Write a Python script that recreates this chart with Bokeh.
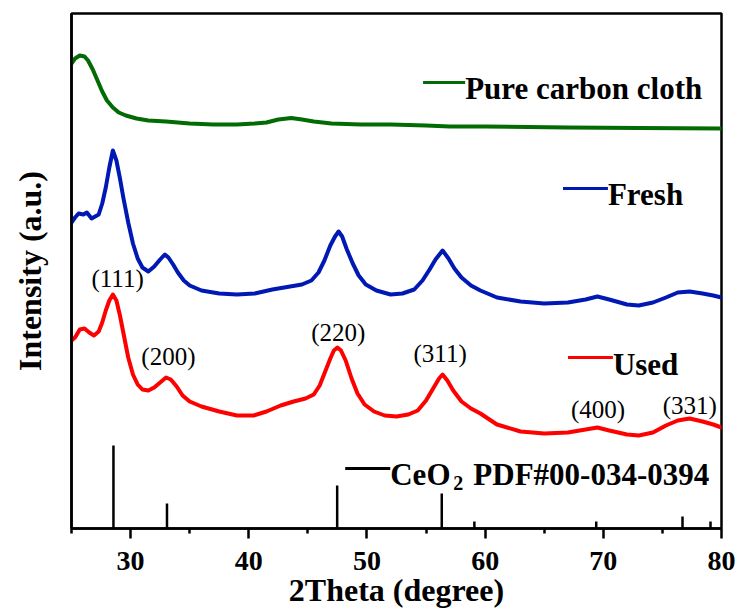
from bokeh.plotting import figure
from bokeh.models import Range1d, FixedTicker
from bokeh.core.properties import value
from bokeh.embed import file_html
from bokeh.resources import INLINE

# ---- data (2theta in degrees, intensity in arbitrary units) ----
theta_carbon = [25.0, 25.3, 25.7, 26.1, 26.4, 26.8, 27.2, 27.6, 28.0, 28.5, 29.0, 29.6, 30.5,
                31.5, 33.0, 35.0, 37.0, 39.0, 40.5, 41.5, 42.5, 43.6, 44.5, 45.5, 47.0, 49.5,
                52.0, 55.0, 57.0, 60.0, 67.0, 73.0, 80.0]
int_carbon = [465, 470, 473, 472, 468, 459, 448, 437, 428, 421, 416, 413, 410,
              408, 407, 405, 404, 404, 405, 406, 409, 410.5, 409, 407, 405, 404,
              404, 403, 402, 402, 401, 400.5, 400]

theta_fresh = [25.0, 25.3, 25.6, 26.0, 26.3, 26.7, 27.0, 27.3, 27.6, 27.9,
               28.2, 28.5, 28.8, 29.1, 29.4, 29.8, 30.2, 30.6, 31.0, 31.5,
               32.0, 32.5, 32.9, 33.2, 33.6, 34.0, 34.5, 35.0, 36.0, 37.5,
               39.0, 40.5, 42.0, 43.5, 44.5, 45.3, 45.9, 46.4, 46.9, 47.3,
               47.6, 47.9, 48.3, 48.8, 49.3, 49.9, 50.8, 52.0, 53.0, 54.0,
               54.7, 55.3, 55.8, 56.4, 56.9, 57.4, 58.0, 58.8, 59.6, 61.0,
               63.0, 65.0, 67.0, 68.5, 69.5, 70.5, 72.0, 73.0, 74.2, 75.3,
               76.3, 77.3, 78.4, 79.3, 80.0]
int_fresh = [306, 311, 315, 314, 316, 310, 312, 314, 325, 341,
             361, 378, 368, 350, 330, 306, 285, 270, 261, 257,
             262, 269, 274, 271, 264, 256, 248, 243, 238, 235,
             234, 235, 239, 242, 244, 248, 256, 268, 283, 292,
             297, 292, 279, 265, 253, 244, 238, 234, 235, 239,
             248, 259, 269, 278, 270, 260, 251, 243, 238, 231,
             227, 225, 226, 229, 232, 229, 224, 223, 226, 231,
             236, 237, 235, 233, 231]

theta_used = [25.0, 25.3, 25.7, 26.1, 26.5, 26.9, 27.3, 27.6, 27.9, 28.2,
              28.5, 28.8, 29.1, 29.4, 29.8, 30.2, 30.6, 31.0, 31.5, 32.0,
              32.5, 33.0, 33.4, 33.9, 34.4, 35.0, 36.0, 37.5, 39.0, 40.4,
              41.5, 42.7, 43.8, 44.8, 45.5, 46.0, 46.5, 46.9, 47.2, 47.5,
              47.8, 48.2, 48.7, 49.2, 49.8, 50.6, 51.5, 52.5, 53.5, 54.3,
              55.0, 55.6, 56.1, 56.4, 56.8, 57.3, 58.0, 58.8, 59.6, 61.0,
              63.0, 65.0, 67.0, 68.5, 69.5, 70.5, 72.0, 73.0, 74.2, 75.3,
              76.3, 77.3, 78.4, 79.3, 80.0]
int_used = [188, 191, 199, 200, 196, 193, 197, 206, 218, 228,
            234, 228, 213, 195, 171, 154, 144, 139, 138, 141,
            146, 151, 149, 142, 133, 127, 122, 117, 113, 113,
            117, 123, 127, 130, 134, 143, 158, 170, 178, 181,
            178, 168, 150, 135, 124, 117, 113, 112, 114, 118,
            128, 140, 150, 154, 148, 138, 127, 120, 115, 104,
            97, 95, 96, 99, 101, 98, 94, 93, 96, 103,
            108, 110, 107, 104, 101]

# CeO2 reference pattern (PDF#00-034-0394)
ref_theta = [28.55, 33.08, 47.48, 56.33, 59.09, 69.40, 76.70, 79.07]
ref_height = [83, 25, 43, 35, 7, 7, 12, 7]

# Miller index labels
hkl_labels = ["(111)", "(200)", "(220)", "(311)", "(400)", "(331)"]
hkl_theta = [28.9, 33.2, 47.57, 56.19, 69.55, 77.32]
hkl_y = [250, 172, 196, 175, 119, 123]

tick_values = [30, 40, 50, 60, 70, 80]
minor_values = [25, 35, 45, 55, 65, 75]

GREEN = "#036b03"
BLUE = "#0019b5"
RED = "#ff0000"
SERIF = "Liberation Serif"

p = figure(width=739, height=610, output_backend="svg", toolbar_location=None,
           x_range=Range1d(25, 80), y_range=Range1d(0, 515),
           min_border_left=71, min_border_right=18, min_border_top=13,
           min_border_bottom=82)

p.xgrid.visible = False
p.ygrid.visible = False
p.outline_line_color = "black"
p.outline_line_width = 2.5
p.outline_line_alpha = 1.0

# curves
for xs, ys, col in [(theta_carbon, int_carbon, GREEN),
                    (theta_fresh, int_fresh, BLUE),
                    (theta_used, int_used, RED)]:
    p.line(xs, ys, line_color=col, line_width=4, line_join="round", line_cap="round")

# reference sticks
p.segment(x0=ref_theta, y0=[0] * len(ref_theta), x1=ref_theta, y1=ref_height,
          line_color="black", line_width=2.5)

# hkl labels
p.text(x=hkl_theta, y=hkl_y, text=hkl_labels, text_font=value(SERIF),
       text_font_size="25px", text_align="center", text_baseline="middle",
       text_color="black")

# legend-like annotations
leg_x0 = [54.75, 66.59, 67.01, 48.16]
leg_x1 = [58.31, 70.39, 70.81, 51.97]
leg_y = [446, 340, 171, 60]
leg_colors = [GREEN, BLUE, RED, "black"]
p.segment(x0=leg_x0, y0=leg_y, x1=leg_x1, y1=leg_y, line_color=leg_colors, line_width=3)

p.text(x=[58.31, 70.39, 70.81, 51.97], y=[440, 334, 164, 54],
       text=["Pure carbon cloth", "Fresh", "Used", "CeO"],
       text_font=value(SERIF), text_font_style="bold", text_font_size="31px",
       text_align="left", text_baseline="alphabetic", text_color="black")
p.text(x=[57.3], y=[46], text=["2"], text_font=value(SERIF), text_font_style="bold",
       text_font_size="20px", text_align="left", text_baseline="alphabetic", text_color="black")
p.text(x=[59.0], y=[54], text=["PDF#00-034-0394"], text_font=value(SERIF),
       text_font_style="bold", text_font_size="31px", text_align="left",
       text_baseline="alphabetic", text_color="black")

# x axis
xa = p.xaxis[0]
xa.ticker = FixedTicker(ticks=tick_values, minor_ticks=minor_values)
xa.axis_label = "2Theta (degree)"
xa.axis_label_text_font = SERIF
xa.axis_label_text_font_style = "bold"
xa.axis_label_text_font_size = "32px"
xa.axis_label_text_color = "black"
xa.axis_label_standoff = -1
xa.major_label_text_font = SERIF
xa.major_label_text_font_style = "bold"
xa.major_label_text_font_size = "28px"
xa.major_label_text_color = "black"
xa.major_label_standoff = 13
xa.axis_line_width = 2.5
xa.axis_line_color = "black"
xa.major_tick_in = 0
xa.major_tick_out = 10
xa.minor_tick_in = 0
xa.minor_tick_out = 5
xa.major_tick_line_width = 2.5
xa.minor_tick_line_width = 2.5
xa.major_tick_line_color = "black"
xa.minor_tick_line_color = "black"

# y axis
ya = p.yaxis[0]
ya.ticker = FixedTicker(ticks=[])
ya.major_tick_line_color = None
ya.minor_tick_line_color = None
ya.major_label_text_font_size = "0px"
ya.axis_label = "Intensity (a.u.)"
ya.axis_label_text_font = SERIF
ya.axis_label_text_font_style = "bold"
ya.axis_label_text_font_size = "32px"
ya.axis_label_text_color = "black"
ya.axis_label_standoff = 24
ya.axis_line_width = 2.5
ya.axis_line_color = "black"

open("out.html", "w").write(file_html(p, INLINE))
